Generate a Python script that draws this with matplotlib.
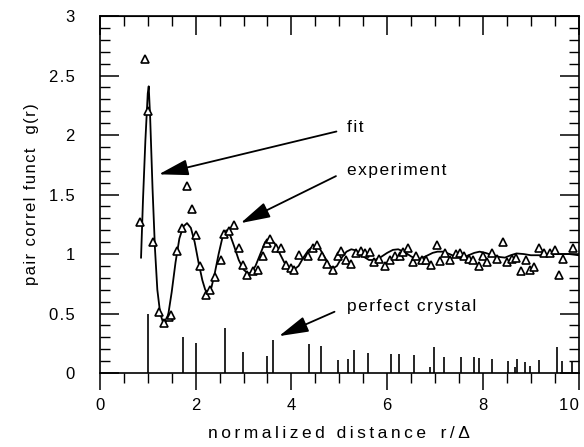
import matplotlib
matplotlib.use('Agg')
import matplotlib.pyplot as plt
from matplotlib.ticker import MultipleLocator

plt.rcParams['font.family'] = ['Liberation Sans', 'DejaVu Sans']

# experimental points (triangles)
r_exp = [0.835, 0.94, 1.01, 1.11, 1.23, 1.34, 1.44, 1.48, 1.61, 1.72, 1.82, 1.93,
         2.0, 2.10, 2.21, 2.31, 2.41, 2.52, 2.60, 2.70, 2.80, 2.91, 2.99, 3.08,
         3.20, 3.30, 3.40, 3.49, 3.56, 3.67, 3.79, 3.88, 4.00, 4.05, 4.16, 4.35,
         4.45, 4.54, 4.64, 4.75, 4.87, 4.98, 5.04, 5.14, 5.24, 5.34, 5.46, 5.53,
         5.64, 5.72, 5.83, 5.95, 6.05, 6.16, 6.26, 6.33, 6.44, 6.53, 6.61, 6.72,
         6.81, 6.92, 7.03, 7.10, 7.20, 7.32, 7.43, 7.52, 7.60, 7.70, 7.79, 7.91,
         8.00, 8.09, 8.19, 8.30, 8.41, 8.51, 8.61, 8.70, 8.79, 8.89, 8.99, 9.07,
         9.16, 9.27, 9.39, 9.50, 9.59, 9.67, 9.88]
g_exp = [1.27, 2.64, 2.20, 1.10, 0.51, 0.42, 0.47, 0.49, 1.025, 1.22, 1.57, 1.38,
         1.16, 0.90, 0.655, 0.70, 0.81, 0.95, 1.17, 1.19, 1.24, 1.05, 0.91, 0.82,
         0.86, 0.87, 0.98, 1.09, 1.125, 1.05, 1.05, 0.91, 0.88, 0.87, 0.99, 0.98,
         1.05, 1.08, 0.98, 0.92, 0.87, 0.98, 1.025, 0.95, 0.92, 1.005, 1.025, 1.005,
         1.02, 0.935, 0.96, 0.90, 0.95, 0.98, 0.98, 1.02, 1.05, 0.935, 0.98, 0.95,
         0.95, 0.91, 1.08, 0.94, 1.01, 0.95, 1.0, 1.01, 0.98, 0.96, 0.95, 0.90,
         0.98, 0.93, 1.01, 0.96, 1.10, 0.93, 0.96, 0.97, 0.86, 0.95, 0.87, 0.89,
         1.05, 1.01, 1.01, 1.03, 0.82, 0.96, 1.05]

# fitted curve
r_fit = [0.86, 0.90, 0.95, 1.00, 1.02, 1.05, 1.10, 1.15, 1.20, 1.26, 1.34, 1.42,
         1.50, 1.58, 1.66, 1.74, 1.82, 1.90, 1.98, 2.06, 2.14, 2.20, 2.26, 2.33,
         2.40, 2.48, 2.56, 2.64, 2.72, 2.80, 2.90, 3.00, 3.08, 3.15, 3.25, 3.35,
         3.45, 3.55, 3.65, 3.75, 3.85, 3.95, 4.04, 4.15, 4.25, 4.35, 4.45, 4.52,
         4.60, 4.70, 4.80, 4.87, 4.95, 5.05, 5.15, 5.25, 5.35, 5.50, 5.62, 5.74,
         5.85, 6.00, 6.12, 6.23, 6.35, 6.50, 6.60, 6.68, 6.80, 6.95, 7.05, 7.17,
         7.30, 7.45, 7.59, 7.70, 7.82, 7.93, 8.05, 8.20, 8.35, 8.46, 8.58, 8.70,
         8.85, 9.00, 9.20, 9.40, 9.60, 9.80, 10.0]
g_fit = [0.97, 1.45, 1.95, 2.35, 2.41, 2.15, 1.55, 1.05, 0.70, 0.50, 0.40, 0.47,
         0.68, 0.93, 1.13, 1.23, 1.26, 1.22, 1.10, 0.93, 0.78, 0.70, 0.675, 0.72,
         0.84, 1.00, 1.14, 1.20, 1.16, 1.07, 0.95, 0.87, 0.84, 0.84, 0.90, 1.00,
         1.10, 1.13, 1.09, 1.01, 0.93, 0.88, 0.865, 0.90, 0.97, 1.03, 1.065, 1.07,
         1.04, 0.97, 0.90, 0.88, 0.90, 0.97, 1.02, 1.04, 1.03, 0.98, 0.95, 0.95,
         0.97, 1.01, 1.035, 1.04, 1.02, 0.98, 0.96, 0.96, 0.98, 1.01, 1.02, 1.02,
         1.00, 0.975, 0.97, 0.99, 1.01, 1.02, 1.01, 0.99, 0.975, 0.97, 0.99, 1.005,
         1.00, 0.99, 0.99, 1.00, 1.00, 1.00, 0.99]

# perfect crystal sticks
r_cry = [1.01, 1.74, 2.0, 2.62, 2.99, 3.49, 3.62, 4.36, 4.61, 4.98, 5.19, 5.30,
         5.59, 6.08, 6.25, 6.56, 6.90, 6.98, 7.19, 7.55, 7.81, 7.91, 8.18, 8.52,
         8.66, 8.72, 8.87, 8.98, 9.16, 9.55, 9.66, 9.86]
g_cry = [0.50, 0.30, 0.255, 0.375, 0.176, 0.143, 0.277, 0.241, 0.227, 0.109, 0.115, 0.193,
         0.171, 0.160, 0.160, 0.148, 0.053, 0.216, 0.132, 0.132, 0.132, 0.123, 0.115, 0.101,
         0.048, 0.12, 0.095, 0.059, 0.109, 0.216, 0.103, 0.101]

x_ticks = [0, 2, 4, 6, 8, 10]
y_ticks = [0, 0.5, 1, 1.5, 2, 2.5, 3]
y_tick_labels = ['0', '0.5', '1', '1.5', '2', '2.5', '3']


def spaced(s, gap='\u200a'):
    # the original typesetting has wide letter spacing
    return gap.join(s)


fig = plt.figure(figsize=(5.84, 4.47), dpi=100)
ax = fig.add_axes([0.171, 0.1655, 0.82, 0.7985])

ax.vlines(r_cry, 0, g_cry, color='black', linewidth=1.2)
ax.plot(r_fit, g_fit, color='black', linewidth=1.3)
ax.plot(r_exp, g_exp, linestyle='none', marker='^', markersize=6,
        markerfacecolor='white', markeredgecolor='black', markeredgewidth=1.2)

ax.set_xlim(0, 10)
ax.set_ylim(0, 3)
ax.xaxis.set_minor_locator(MultipleLocator(0.5))
ax.yaxis.set_minor_locator(MultipleLocator(0.1))
ax.set_xticks(x_ticks)
ax.set_xticklabels([spaced(str(t)) for t in x_ticks])
ax.set_yticks(y_ticks)
ax.set_yticklabels([spaced(t) for t in y_tick_labels])
ax.get_xticklabels()[-1].set_horizontalalignment('right')

ax.tick_params(axis='y', which='both', direction='in', left=True, right=True, labelsize=12, pad=18)
ax.tick_params(axis='y', which='major', length=14, width=1.1)
ax.tick_params(axis='y', which='minor', length=7, width=1.0)
ax.tick_params(axis='x', which='both', direction='out', bottom=True, top=False, labelsize=12, pad=6)
ax.tick_params(axis='x', which='major', length=12, width=1.1)
ax.tick_params(axis='x', which='minor', length=7, width=1.0)

# top ticks point inward
top = ax.secondary_xaxis('top')
top.xaxis.set_major_locator(MultipleLocator(2))
top.xaxis.set_minor_locator(MultipleLocator(0.5))
top.tick_params(which='both', direction='in', labeltop=False)
top.tick_params(which='major', length=14, width=1.1)
top.tick_params(which='minor', length=7, width=1.0)

for s in ax.spines.values():
    s.set_linewidth(1.2)

ax.set_xlabel(spaced('normalized distance', '\u2009') + '   ' + spaced('r/\u0394', '\u2009'),
              fontsize=12.5, labelpad=9)
ax.set_ylabel(spaced('pair correl funct') + '   ' + spaced('g(r)'), fontsize=12, labelpad=7)

arrow = dict(arrowstyle='-|>,head_length=1.3,head_width=0.35', color='black',
             linewidth=1.3, mutation_scale=14, shrinkA=0, shrinkB=0)
ax.annotate('', xy=(1.23, 1.67), xytext=(4.94, 2.03), arrowprops=arrow)
ax.annotate('', xy=(2.94, 1.26), xytext=(4.93, 1.655), arrowprops=arrow)
ax.annotate('', xy=(3.74, 0.31), xytext=(4.9, 0.515), arrowprops=arrow)
ax.text(5.16, 2.06, spaced('fit'), fontsize=12.5, va='center', ha='left')
ax.text(5.16, 1.70, spaced('experiment'), fontsize=12.5, va='center', ha='left')
ax.text(5.16, 0.563, spaced('perfect crystal'), fontsize=12.5, va='center', ha='left')

fig.savefig('out.png', dpi=100)
